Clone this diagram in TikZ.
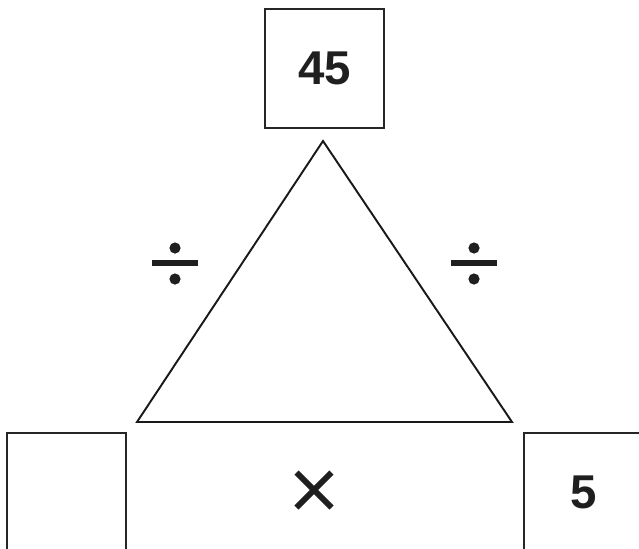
\documentclass[tikz,border=0pt]{standalone}
\usepackage{fontspec}
\setmainfont{Liberation Sans}
\begin{document}
\begin{tikzpicture}[
    x=0.02cm, y=-0.02cm,
    box/.style={draw=black!85, line width=0.85pt, minimum width=2.38cm, minimum height=2.38cm, inner sep=0pt},
    number/.style={font=\fontsize{27}{30}\selectfont\bfseries, text=black!88},
    edge/.style={draw=black!90, line width=1.1pt, line join=miter},
    op/.style={draw=black!88, line width=3.4pt},
    dot/.style={fill=black!88}
]
\useasboundingbox (0,0) rectangle (639,548);
\clip (0,0) rectangle (639,548);

% answer boxes
\node[box, number] (top) at (324.5,68.5) {45};
\node[box] (left) at (66.5,492.5) {};
\node[box, number] (right) at (583.5,492.5) {5};

% the triangle
\coordinate (apex) at (323,141);
\coordinate (bl) at (137,422);
\coordinate (br) at (512,422);
\draw[edge] (apex) -- (bl) -- (br) -- cycle;

% divide signs on the two sides
\foreach \x in {175,474} {
    \draw[op] (\x-23,263) -- (\x+23,263);
    \fill[dot] (\x,248) circle (5.6);
    \fill[dot] (\x,279) circle (5.6);
}

% times sign on the base
\draw[op] (314-17.5,490-17.5) -- (314+17.5,490+17.5);
\draw[op] (314-17.5,490+17.5) -- (314+17.5,490-17.5);

\end{tikzpicture}
\end{document}
